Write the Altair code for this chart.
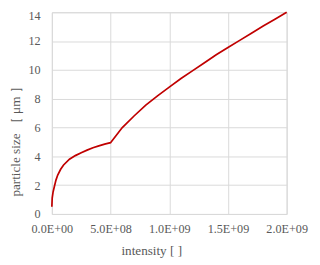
import altair as alt
import pandas as pd

intensity = [0, 0.003e9, 0.01e9, 0.02e9, 0.035e9, 0.05e9, 0.075e9, 0.1e9, 0.15e9, 0.2e9,
             0.25e9, 0.3e9, 0.35e9, 0.4e9, 0.45e9, 0.5e9, 0.6e9, 0.7e9, 0.8e9, 0.9e9,
             1.0e9, 1.1e9, 1.2e9, 1.3e9, 1.4e9, 1.5e9, 1.6e9, 1.7e9, 1.8e9, 1.9e9, 2.0e9]
particle_size = [0.5, 1.1, 1.5, 1.85, 2.35, 2.7, 3.1, 3.4, 3.8, 4.05,
                 4.25, 4.43, 4.6, 4.73, 4.85, 4.95, 6.0, 6.8, 7.55, 8.2,
                 8.8, 9.4, 9.95, 10.5, 11.05, 11.55, 12.05, 12.55, 13.05, 13.52, 14.0]

x_ticks = [0, 5e8, 1e9, 1.5e9, 2e9]
x_tick_labels = ["0.0E+00", "5.0E+08", "1.0E+09", "1.5E+09", "2.0E+09"]
y_ticks = [0, 2, 4, 6, 8, 10, 12, 14]

df = pd.DataFrame({"intensity": intensity, "size": particle_size})

expr = "''"
for v, lab in reversed(list(zip(x_ticks, x_tick_labels))):
    expr = f"abs(datum.value - {v}) < 1 ? '{lab}' : ({expr})"

FONT = "Liberation Serif"
GREY = "#595959"

chart = alt.Chart(df).mark_line(color="#c00000", strokeWidth=1.75).encode(
    x=alt.X("intensity:Q",
            scale=alt.Scale(domain=[0, 2e9], nice=False, zero=True),
            axis=alt.Axis(values=x_ticks, labelExpr=expr, title="intensity [ ]",
                          grid=True, gridColor="#d9d9d9", gridWidth=1,
                          domain=False, ticks=False, tickSize=0,
                          labelOverlap=False, labelFlush=False,
                          labelPadding=9, labelFont=FONT, labelFontSize=12.5,
                          labelColor=GREY, titleFont=FONT, titleFontSize=13.5,
                          titleFontWeight="normal", titleColor=GREY,
                          titleX=102, titleY=42, titleBaseline="alphabetic",
                          titleAlign="center", titleAnchor="middle")),
    y=alt.Y("size:Q",
            scale=alt.Scale(domain=[0, 14], nice=False),
            axis=alt.Axis(values=y_ticks, title="particle size ［ μm ］",
                          grid=True, gridColor="#d9d9d9", gridWidth=1,
                          domain=False, ticks=False, tickSize=0,
                          labelOverlap=False, labelFlush=False,
                          labelOffset={"condition": {"test": "datum.value == 14", "value": 3}, "value": 0},
                          labelPadding=12, labelFont=FONT, labelFontSize=12.5,
                          labelColor=GREY, titleFont=FONT, titleFontSize=13.5,
                          titleFontWeight="normal", titleColor=GREY,
                          titleX=-37, titleY=129, titleBaseline="middle",
                          titleAlign="center", titleAngle=-90)),
).properties(
    width=241, height=207,
    autosize=alt.AutoSizeParams(type="none"),
    padding={"left": 45, "top": 1, "right": 26, "bottom": 49},
).configure_view(stroke="#d9d9d9", strokeWidth=1)

chart.save("out.html", embed_options={"renderer": "svg", "actions": False})
